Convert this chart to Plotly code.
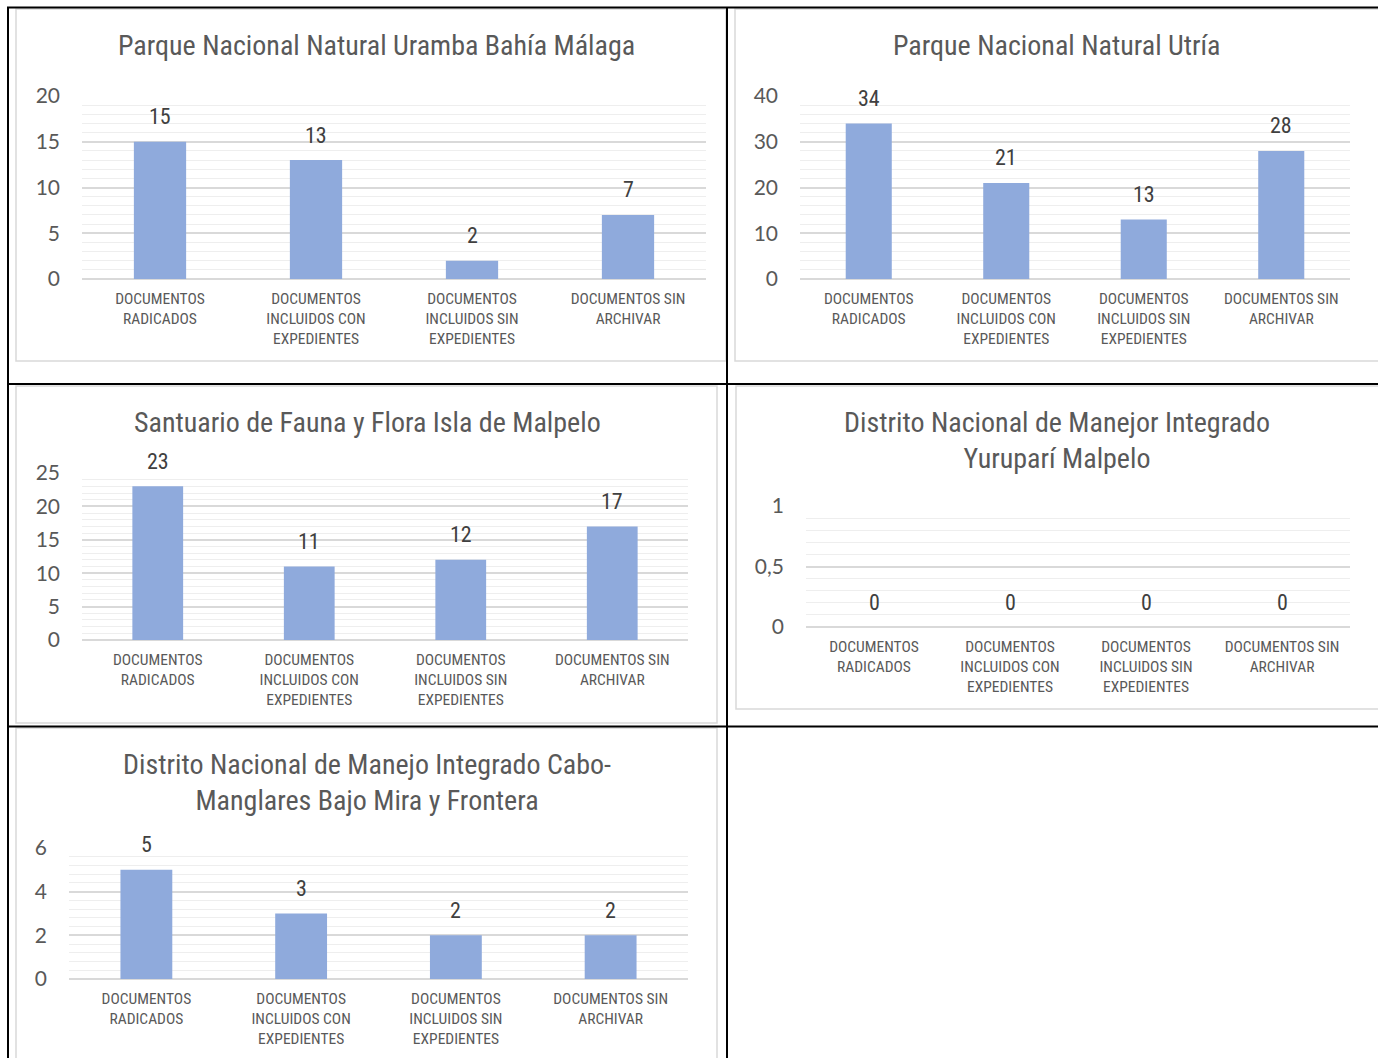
import plotly.graph_objects as go

# --- data -------------------------------------------------------------
categories = [
    "DOCUMENTOS<br>RADICADOS",
    "DOCUMENTOS<br>INCLUIDOS CON<br>EXPEDIENTES",
    "DOCUMENTOS<br>INCLUIDOS SIN<br>EXPEDIENTES",
    "DOCUMENTOS SIN<br>ARCHIVAR",
]

uramba_bahia_malaga = [15, 13, 2, 7]
utria = [34, 21, 13, 28]
isla_malpelo = [23, 11, 12, 17]
yurupari_malpelo = [0, 0, 0, 0]
cabo_manglares = [5, 3, 2, 2]

titles = [
    "Parque Nacional Natural Uramba Bahía Málaga",
    "Parque Nacional Natural Utría",
    "Santuario de Fauna y Flora Isla de Malpelo",
    "Distrito Nacional de Manejor Integrado<br>Yuruparí Malpelo",
    "Distrito Nacional de Manejo Integrado Cabo-<br>Manglares Bajo Mira y Frontera",
]

series = [uramba_bahia_malaga, utria, isla_malpelo, yurupari_malpelo, cabo_manglares]

# --- layout (pixel geometry of the page) --------------------------------
W, H = 1378, 1058

def fx(v):
    return v / W

def fy(v):
    return 1 - v / H

# box: chart frame (x0, y0, x1, y1); plot: (x0, ytop, x1, ybottom)
panels = [
    dict(box=(16, 9, 726, 361), plot=(82, 96, 706, 279), ymax=20, dtick=5, minor=1, title_at=(376, 46)),
    dict(box=(735, 9, 1384, 361), plot=(800, 96, 1350, 279), ymax=40, dtick=10, minor=2, title_at=(1057, 46)),
    dict(box=(16, 386, 717, 723), plot=(82, 473, 688, 640), ymax=25, dtick=5, minor=1, title_at=(367, 423)),
    dict(box=(736, 386, 1384, 709), plot=(806, 506, 1350, 627), ymax=1, dtick=0.5, minor=0.1, title_at=(1057, 440)),
    dict(box=(16, 728, 717, 1066), plot=(69, 848, 688, 979), ymax=6, dtick=2, minor=0.4, title_at=(367, 782)),
]

NARROW = "Liberation Sans Narrow, Arial Narrow, Roboto Condensed, sans-serif"
TICKFONT = "Lato, Calibri, Open Sans, sans-serif"
BAR = "#8faadc"
TXT = "#595959"
LBL = "#404040"
GRID = "#d9d9d9"
MINOR = "#eeeeee"

fig = go.Figure()
shapes = []
annotations = []
layout = {}

for i, (p, vals, title) in enumerate(zip(panels, series, titles)):
    n = "" if i == 0 else str(i + 1)
    xa, ya = "x" + n, "y" + n
    fig.add_trace(go.Bar(
        x=categories, y=vals, xaxis=xa, yaxis=ya,
        width=0.335, marker=dict(color=BAR, line=dict(width=0)),
        showlegend=False, hoverinfo="skip", cliponaxis=False,
    ))
    x0, yt, x1, yb = p["plot"]
    layout["xaxis" + n] = dict(
        domain=[fx(x0), fx(x1)], anchor=ya, type="category", automargin=False,
        showgrid=False, zeroline=False, showline=False, ticks="", ticklabelstandoff=8,
        tickfont=dict(family=NARROW, size=15.5, color=TXT), fixedrange=True,
    )
    layout["yaxis" + n] = dict(
        domain=[fy(yb), fy(yt)], anchor=xa, range=[0, p["ymax"]], automargin=False,
        dtick=p["dtick"], tick0=0, showgrid=True, gridcolor=GRID, gridwidth=1.5,
        zeroline=True, zerolinecolor=GRID, zerolinewidth=1.5, showline=False,
        ticks="", ticklabelstandoff=21,
        tickfont=dict(family=TICKFONT, size=21, color=TXT),
        minor=dict(dtick=p["minor"], tick0=0, showgrid=True, gridcolor=MINOR, gridwidth=1),
        fixedrange=True,
    )
    # value labels above each bar
    for c, v in zip(categories, vals):
        annotations.append(dict(
            x=c, y=v, xref=xa, yref=ya, text=str(v), showarrow=False,
            yanchor="middle", yshift=25,
            font=dict(family=NARROW, size=22, color=LBL),
        ))
    # chart title
    tx, ty = p["title_at"]
    annotations.append(dict(
        x=fx(tx), y=fy(ty), xref="paper", yref="paper", text=title,
        showarrow=False, xanchor="center", yanchor="middle",
        font=dict(family=NARROW, size=28, color=TXT),
    ))
    # chart frame
    bx0, by0, bx1, by1 = p["box"]
    shapes.append(dict(
        type="rect", xref="paper", yref="paper",
        x0=fx(bx0), x1=fx(bx1), y0=fy(by1), y1=fy(by0),
        line=dict(color=GRID, width=1.5), layer="below",
    ))

# table rules around the charts
for (xa0, ya0, xa1, ya1) in [
    (7, 7.5, W + 2, 7.5),
    (8, 7, 8, H + 2),
    (727, 7, 727, H + 2),
    (7, 384, W + 2, 384),
    (7, 726.5, W + 2, 726.5),
]:
    shapes.append(dict(
        type="line", xref="paper", yref="paper",
        x0=fx(xa0), x1=fx(xa1), y0=fy(ya0), y1=fy(ya1),
        line=dict(color="black", width=2), layer="above",
    ))

fig.update_layout(
    width=W, height=H, margin=dict(l=0, r=0, t=0, b=0, autoexpand=False),
    paper_bgcolor="white", plot_bgcolor="white",
    separators=",.", shapes=shapes, annotations=annotations,
    **layout,
)

fig.write_html("out.html", config=dict(displayModeBar=False))
